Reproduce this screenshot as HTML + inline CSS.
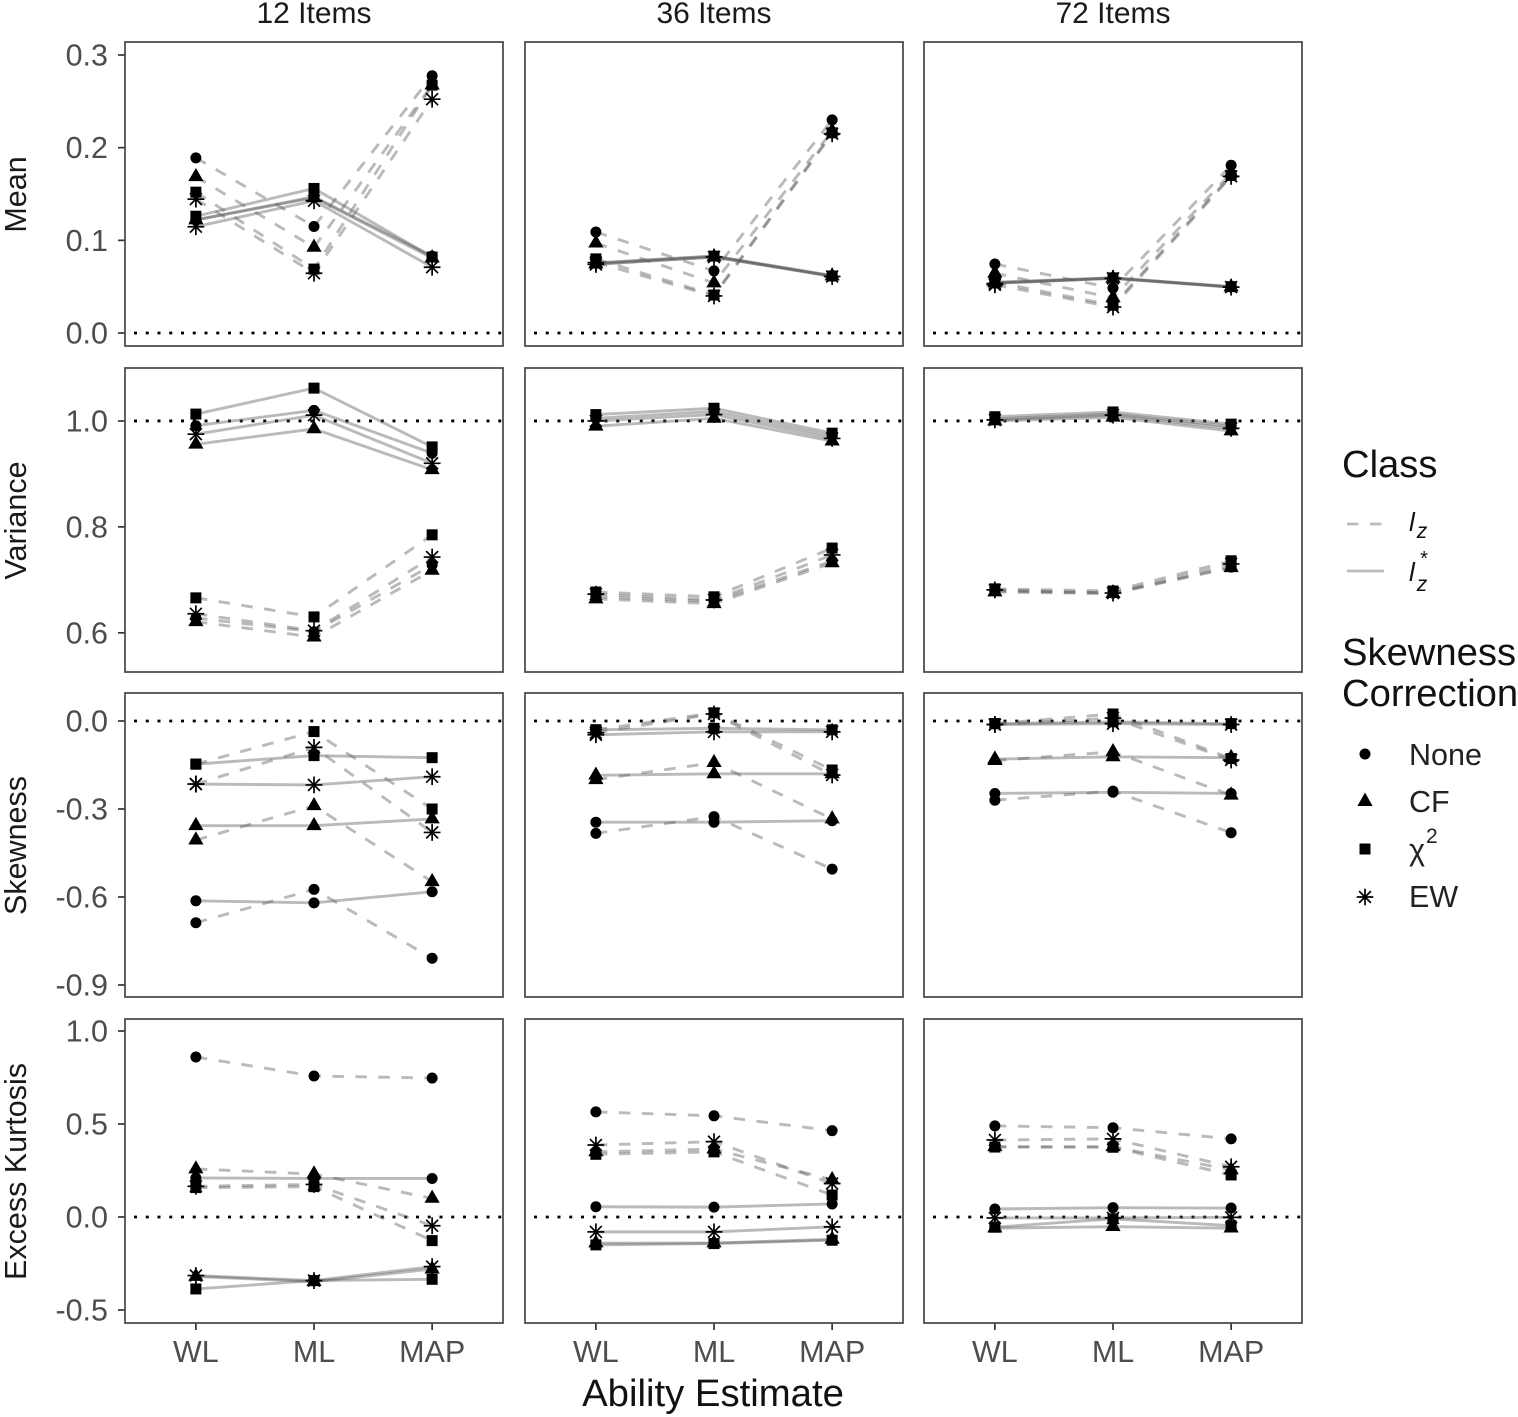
<!DOCTYPE html>
<html lang="en">
<head>
<meta charset="utf-8">
<title>Ability Estimate Simulation Chart</title>
<style>
html,body{margin:0;padding:0;background:#fff;}
svg{display:block;font-family:"Liberation Sans",Arial,sans-serif;}
</style>
</head>
<body>
<svg id="chart" xmlns="http://www.w3.org/2000/svg" width="1518" height="1417" viewBox="0 0 1518 1417">
  <rect x="0" y="0" width="1518" height="1417" fill="#fff"/>
  <g id="panels"></g>
  <g>
    <text x="1342" y="477" font-size="38.2" fill="#111">Class</text>
    <line x1="1347" x2="1384" y1="524" y2="524" stroke="#bbb" stroke-width="2.8" stroke-dasharray="11.5 11.5"/>
    <text x="1409" y="531" font-size="26" font-style="italic" fill="#111">l<tspan dx="2" dy="7" font-size="21">z</tspan></text>
    <line x1="1347" x2="1384" y1="571" y2="571" stroke="#bbb" stroke-width="2.8"/>
    <text x="1409" y="581" font-size="26" font-style="italic" fill="#111">l<tspan dx="2" dy="10" font-size="21">z</tspan><tspan dx="-7" dy="-26" font-size="20" font-style="normal">*</tspan></text>
    <text x="1342" y="665" font-size="38.2" fill="#111">Skewness</text>
    <text x="1342" y="706" font-size="38.2" fill="#111">Correction</text>
    <circle cx="1365" cy="754" r="5.5" fill="#000"/>
    <text x="1409" y="765" font-size="30.5" fill="#222">None</text>
    <path d="M1365 792.5 L1372.6 806 L1357.4 806 Z" fill="#000"/>
    <text x="1409" y="812" font-size="30.5" fill="#222">CF</text>
    <rect x="1359.5" y="843.5" width="11" height="11" fill="#000"/>
    <text x="1409" y="860" font-size="30.5" fill="#222">χ<tspan dx="1" dy="-17" font-size="21">2</tspan></text>
    <g stroke="#000" stroke-width="1.7">
      <line x1="1356.7" x2="1373.3" y1="897" y2="897"/>
      <line x1="1365" x2="1365" y1="888.7" y2="905.3"/>
      <line x1="1359.1" x2="1370.9" y1="891.1" y2="902.9"/>
      <line x1="1359.1" x2="1370.9" y1="902.9" y2="891.1"/>
    </g>
    <text x="1409" y="907" font-size="30.5" fill="#222">EW</text>
  </g>
  <text x="713" y="1406" font-size="38.3" text-anchor="middle" fill="#111">Ability Estimate</text>
</svg>
<script>
// Categories and labels
const estimators = ['WL', 'ML', 'MAP'];
const itemLabels = ['12 Items', '36 Items', '72 Items'];
const statLabels = ['Mean', 'Variance', 'Skewness', 'Excess Kurtosis'];
const corrections = ['none', 'cf', 'chi', 'ew'];
const classes = ['lz', 'lz-star'];

// Tick values and their printed labels
const meanTicks = [0, 0.1, 0.2, 0.3];
const meanTickLabels = ['0.0', '0.1', '0.2', '0.3'];
const varianceTicks = [0.6, 0.8, 1.0];
const varianceTickLabels = ['0.6', '0.8', '1.0'];
const skewTicks = [0, -0.3, -0.6, -0.9];
const skewTickLabels = ['0.0', '-0.3', '-0.6', '-0.9'];
const kurtTicks = [1.0, 0.5, 0, -0.5];
const kurtTickLabels = ['1.0', '0.5', '0.0', '-0.5'];

// Axis domains (bottom value, top value) and reference lines
const meanDomain = [-0.014, 0.314];
const varianceDomain = [0.526, 1.1];
const skewDomain = [-0.941, 0.0955];
const kurtDomain = [-0.57, 1.0645];
const refLines = [0, 1, 0, 0];

// Values: rows are lz None, CF, chi2, EW, then lz* None, CF, chi2, EW; columns WL, ML, MAP
const mean12 = [
  [0.189, 0.115, 0.2776], [0.1686, 0.0925, 0.2675], [0.152, 0.069, 0.2675], [0.1445, 0.0645, 0.2523],
  [0.122, 0.147, 0.083], [0.122, 0.146, 0.081], [0.126, 0.156, 0.082], [0.1147, 0.1427, 0.071]
];
const mean36 = [
  [0.109, 0.067, 0.230], [0.097, 0.054, 0.218], [0.080, 0.041, 0.216], [0.076, 0.040, 0.215],
  [0.0755, 0.083, 0.062], [0.0745, 0.082, 0.0615], [0.0755, 0.083, 0.0615], [0.074, 0.082, 0.061]
];
const mean72 = [
  [0.0745, 0.0485, 0.181], [0.0645, 0.038, 0.1725], [0.055, 0.030, 0.170], [0.052, 0.028, 0.169],
  [0.055, 0.0595, 0.050], [0.054, 0.059, 0.0495], [0.054, 0.0595, 0.050], [0.0535, 0.059, 0.0495]
];
const variance12 = [
  [0.628, 0.602, 0.728], [0.621, 0.592, 0.718], [0.666, 0.630, 0.785], [0.636, 0.604, 0.743],
  [0.991, 1.020, 0.939], [0.956, 0.985, 0.908], [1.013, 1.062, 0.951], [0.975, 1.011, 0.920]
];
const variance36 = [
  [0.668, 0.659, 0.736], [0.664, 0.655, 0.732], [0.677, 0.668, 0.760], [0.673, 0.662, 0.747],
  [1.005, 1.018, 0.972], [0.990, 1.005, 0.962], [1.012, 1.024, 0.977], [1.000, 1.012, 0.967]
];
const variance72 = [
  [0.679, 0.675, 0.724], [0.677, 0.674, 0.723], [0.683, 0.679, 0.736], [0.681, 0.675, 0.730],
  [1.004, 1.013, 0.990], [1.000, 1.007, 0.981], [1.008, 1.017, 0.994], [1.002, 1.011, 0.986]
];
const skew12 = [
  [-0.688, -0.574, -0.809], [-0.406, -0.289, -0.548], [-0.147, -0.036, -0.300], [-0.215, -0.090, -0.380],
  [-0.613, -0.620, -0.582], [-0.357, -0.357, -0.334], [-0.147, -0.118, -0.125], [-0.215, -0.218, -0.190]
];
const skew36 = [
  [-0.383, -0.326, -0.505], [-0.200, -0.142, -0.334], [-0.030, 0.028, -0.167], [-0.040, 0.024, -0.184],
  [-0.345, -0.345, -0.340], [-0.185, -0.180, -0.180], [-0.030, -0.025, -0.030], [-0.047, -0.037, -0.037]
];
const skew72 = [
  [-0.270, -0.239, -0.381], [-0.135, -0.105, -0.253], [-0.009, 0.024, -0.128], [-0.012, 0.010, -0.133],
  [-0.247, -0.243, -0.247], [-0.130, -0.122, -0.125], [-0.009, -0.003, -0.009], [-0.012, -0.009, -0.012]
];
const kurt12 = [
  [0.860, 0.758, 0.747], [0.258, 0.231, 0.100], [0.158, 0.163, -0.127], [0.165, 0.175, -0.047],
  [0.210, 0.207, 0.207], [-0.320, -0.348, -0.280], [-0.387, -0.342, -0.335], [-0.315, -0.342, -0.267]
];
const kurt36 = [
  [0.565, 0.544, 0.464], [0.350, 0.365, 0.200], [0.337, 0.350, 0.118], [0.387, 0.405, 0.180],
  [0.055, 0.053, 0.070], [-0.140, -0.140, -0.120], [-0.150, -0.143, -0.125], [-0.080, -0.080, -0.053]
];
const kurt72 = [
  [0.490, 0.480, 0.420], [0.378, 0.378, 0.253], [0.376, 0.375, 0.226], [0.414, 0.420, 0.270],
  [0.043, 0.050, 0.048], [-0.060, -0.052, -0.060], [-0.055, -0.010, -0.047], [-0.005, -0.005, -0.002]
];

const grid = [
  [mean12, mean36, mean72],
  [variance12, variance36, variance72],
  [skew12, skew36, skew72],
  [kurt12, kurt36, kurt72]
];
const domains = [meanDomain, varianceDomain, skewDomain, kurtDomain];
const ticks = [meanTicks, varianceTicks, skewTicks, kurtTicks];
const tickLabels = [meanTickLabels, varianceTickLabels, skewTickLabels, kurtTickLabels];

const NS = 'http://www.w3.org/2000/svg';
const panelLefts = [125, 525, 924];
const panelTops = [42, 368, 693, 1019];
const panelW = 378;
const panelH = 304;
const root = document.getElementById('panels');

function make(parent, tag, attrs, text) {
  const el = document.createElementNS(NS, tag);
  for (const k in attrs) el.setAttribute(k, attrs[k]);
  if (text !== undefined) el.textContent = text;
  parent.appendChild(el);
  return el;
}
function xScale(col, idx) {
  const unit = panelW / (estimators.length - 1 + 1.2);
  return panelLefts[col] + unit * (0.6 + idx);
}
function yScale(row, value) {
  const d = domains[row];
  return panelTops[row] + panelH * (d[1] - value) / (d[1] - d[0]);
}
function drawMarker(g, kind, x, y) {
  const R = 5.5, T = 8.8, A = 8.4, D = A * Math.SQRT1_2;
  if (kind === 'none') {
    make(g, 'circle', { cx: x, cy: y, r: R, fill: '#000' });
  } else if (kind === 'cf') {
    const pts = [[x, y - T], [x + T * 0.866, y + T / 2], [x - T * 0.866, y + T / 2]];
    make(g, 'polygon', { points: pts.map(p => p.join(',')).join(' '), fill: '#000' });
  } else if (kind === 'chi') {
    make(g, 'rect', { x: x - R, y: y - R, width: 2 * R, height: 2 * R, fill: '#000' });
  } else {
    const s = { stroke: '#000', 'stroke-width': 1.7 };
    make(g, 'line', Object.assign({ x1: x - A, x2: x + A, y1: y, y2: y }, s));
    make(g, 'line', Object.assign({ x1: x, x2: x, y1: y - A, y2: y + A }, s));
    make(g, 'line', Object.assign({ x1: x - D, x2: x + D, y1: y - D, y2: y + D }, s));
    make(g, 'line', Object.assign({ x1: x - D, x2: x + D, y1: y + D, y2: y - D }, s));
  }
}

// Strip titles
itemLabels.forEach(function (label, c) {
  const t = make(root, 'text', { x: panelLefts[c] + panelW / 2, y: 23, 'font-size': 30, 'text-anchor': 'middle', fill: '#1a1a1a' }, label);
  
  
});

// Row titles and y axes
statLabels.forEach(function (label, r) {
  const cy = panelTops[r] + panelH / 2 + 0.5;
  const t = make(root, 'text', { x: 26, y: cy, 'font-size': 30.5, 'text-anchor': 'middle', fill: '#1a1a1a', transform: 'rotate(-90 26 ' + cy + ')' }, label);
  
  
  ticks[r].forEach(function (v, i) {
    const y = yScale(r, v);
    const tick = make(root, 'line', { x1: 118, x2: 125, y1: y, y2: y, stroke: '#333', 'stroke-width': 1.7 });
    
    
    const lab = make(root, 'text', { x: 108, y: y + 10.5, 'font-size': 30.5, 'text-anchor': 'end', fill: '#4d4d4d' }, tickLabels[r][i]);
    
    
  });
});

// X axes
panelLefts.forEach(function (left, c) {
  estimators.forEach(function (name, i) {
    const x = xScale(c, i);
    const tick = make(root, 'line', { x1: x, x2: x, y1: 1323, y2: 1330, stroke: '#333', 'stroke-width': 1.7 });
    
    
    const lab = make(root, 'text', { x: x, y: 1362, 'font-size': 30.5, 'text-anchor': 'middle', fill: '#4d4d4d' }, name);
    
    
  });
});

// Panels
grid.forEach(function (rowData, r) {
  rowData.forEach(function (panelData, c) {
    const g = make(root, 'g', {});
    
    

    const ref = make(g, 'line', {
      x1: panelLefts[c], x2: panelLefts[c] + panelW,
      y1: yScale(r, refLines[r]), y2: yScale(r, refLines[r]),
      stroke: '#000', 'stroke-width': 2.8, 'stroke-dasharray': '3 8.75', 'stroke-dashoffset': -9
    });
    
    

    panelData.forEach(function (series, s) {
      const isStar = s >= corrections.length;
      const pts = series.map(function (v, i) { return xScale(c, i) + ',' + yScale(r, v); }).join(' ');
      const attrs = { points: pts, fill: 'none', stroke: 'rgba(90,90,90,0.42)', 'stroke-width': 2.9 };
      if (!isStar) attrs['stroke-dasharray'] = '11.5 11.5';
      const line = make(g, 'polyline', attrs);
      
      
    });

    panelData.forEach(function (series, s) {
      const kind = corrections[s % corrections.length];
      series.forEach(function (v, i) {
        const mark = make(g, 'g', {});
        
        
        drawMarker(mark, kind, xScale(c, i), yScale(r, v));
      });
    });

    const frame = make(g, 'rect', { x: panelLefts[c], y: panelTops[r], width: panelW, height: panelH, fill: 'none', stroke: '#444', 'stroke-width': 1.7 });
    
    
  });
});
</script>
</body>
</html>
